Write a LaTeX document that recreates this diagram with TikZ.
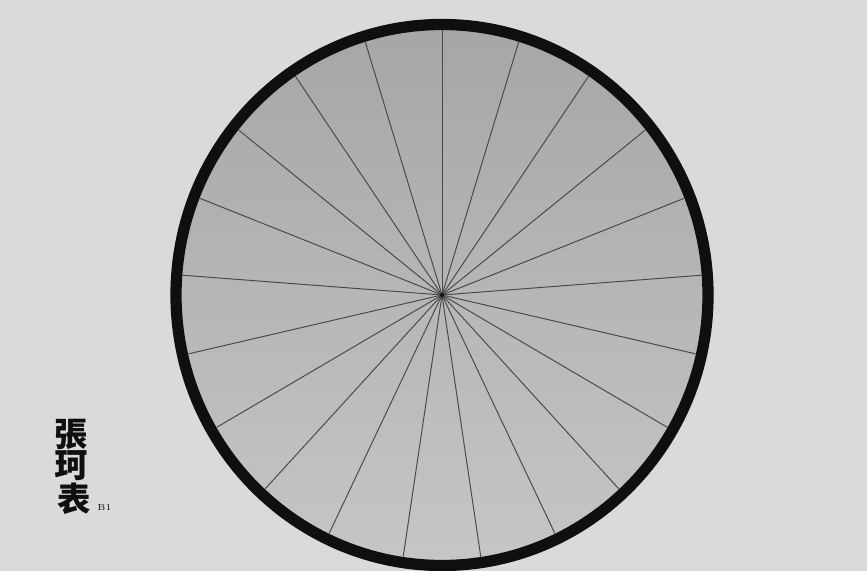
\documentclass[tikz,border=0pt]{standalone}
\usepackage{fontspec}
\usepackage{tikz}
\usetikzlibrary{positioning}
\newfontfamily\cjk{Noto Sans CJK TC}
\definecolor{paper}{RGB}{218,218,217}
\definecolor{disctop}{RGB}{166,166,166}
\definecolor{discbot}{RGB}{198,198,197}
\definecolor{spokegray}{RGB}{72,72,72}
\definecolor{inkblack}{RGB}{15,15,15}

\begin{document}
\begin{tikzpicture}[x=0.02cm, y=0.02cm,
    spoke/.style={line width=0.55pt, spokegray},
    hanzi/.style={inkblack, font=\cjk\bfseries\fontsize{19}{21}\selectfont, inner sep=0pt}]
            % Paper
            \fill[paper] (0,0) rectangle (867,571);
            \useasboundingbox (0,0) rectangle (867,571);

            % Centre of the disc
            \coordinate (hub) at (442,276);

            % Grey disc
            \shade[top color=disctop, bottom color=discbot] (hub) ellipse [x radius=266, y radius=270.5];

            % 21 spokes
            \foreach \k in {0,...,20} {
                \pgfmathsetmacro{\ang}{90-\k*360/21}
                \coordinate (rim\k) at ([shift={(hub)}]\ang:260 and 264.5);
                \draw[spoke] (hub) -- (rim\k);
            }
            \fill[inkblack] (hub) circle [radius=2];

            % Thick rim
            \draw[inkblack, line width=6.4pt] (hub) ellipse [x radius=266, y radius=270.5];

            % Signature
            \node[hanzi] (zhang) at (71,137) {張};
            \node[hanzi] (ke) at (71,105) {珂};
            \node[hanzi] (biao) at (74,72) {表};
            \node[inkblack, font=\tiny, inner sep=0pt, anchor=west] (mark) at (97,63) {B1};
\end{tikzpicture}
\end{document}
